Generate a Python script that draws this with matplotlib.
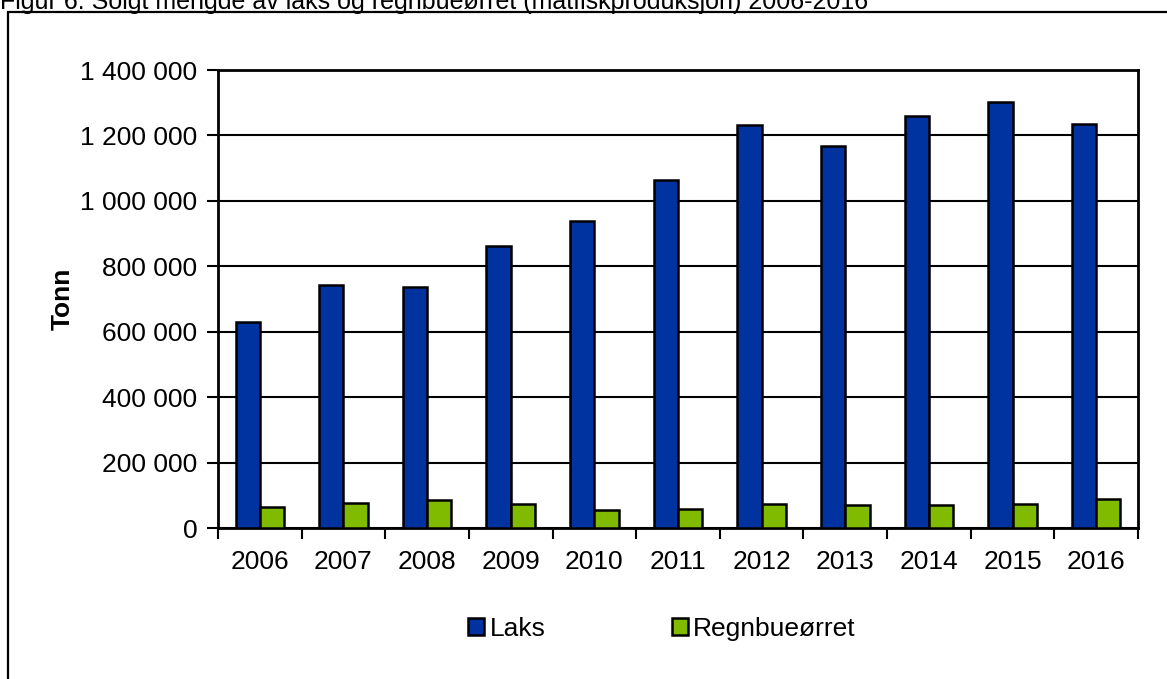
import matplotlib
matplotlib.use("Agg")
import matplotlib.pyplot as plt
import numpy as np
from matplotlib.ticker import FuncFormatter, FixedLocator
from matplotlib.patches import Rectangle

plt.rcParams['font.family'] = ['Liberation Sans', 'DejaVu Sans']

years = ['2006', '2007', '2008', '2009', '2010', '2011', '2012', '2013', '2014', '2015', '2016']
laks = [629888, 744222, 737694, 862908, 939575, 1064868, 1232095, 1168324, 1258356, 1303346, 1233619]
regnbue = [62702, 77381, 85176, 73989, 54451, 58472, 74583, 71449, 68910, 72359, 87446]
series_names = ['Laks', 'Regnbueørret']
title = 'Figur 6. Solgt mengde av laks og regnbueørret (matfiskproduksjon) 2006-2016'

W, H = 1167, 679
fig = plt.figure(figsize=(W / 100, H / 100), dpi=100)

# outer frame (cut at right/bottom)
fig.patches.append(Rectangle((8 / W, -0.1), 1.2, (H - 12) / H + 0.1, transform=fig.transFigure,
                             fill=False, edgecolor='black', linewidth=1.6))
fig.text(0, (H - 9) / H, title, fontsize=18, va='baseline', ha='left')

ax = fig.add_axes([218 / W, (H - 528) / H, (1138 - 218) / W, (528 - 70) / H])
x = np.arange(len(years))
w = 0.29
ax.bar(x - w / 2, laks, w, color='#0033A0', edgecolor='black', linewidth=1.8, label=series_names[0], zorder=3)
ax.bar(x + w / 2, regnbue, w, color='#80BB00', edgecolor='black', linewidth=1.8, label=series_names[1], zorder=3)

ax.set_xlim(-0.5, len(years) - 0.5)
ax.set_ylim(0, 1400000)
ax.set_yticks(np.arange(0, 1400001, 200000))
ax.yaxis.set_major_formatter(FuncFormatter(lambda v, p: f"{int(v):,}".replace(',', ' ')))
ax.yaxis.grid(True, color='black', linewidth=1.5, zorder=0)
ax.set_axisbelow(True)

ax.set_xticks(x)
ax.set_xticklabels(years)
ax.xaxis.set_minor_locator(FixedLocator(np.arange(-0.5, len(years), 1.0)))
ax.tick_params(axis='x', which='major', length=0, pad=16, labelsize=19)
ax.tick_params(axis='x', which='minor', length=8, width=1.5, direction='out')
ax.tick_params(axis='y', which='major', length=8, width=1.5, direction='out', pad=7, labelsize=19)

for s in ax.spines.values():
    s.set_linewidth(2)
    s.set_color('black')

ax.set_ylabel('Tonn', fontsize=19, fontweight='bold', va='center')
ax.yaxis.set_label_coords((63 - 218) / (1138 - 218), 0.5)

leg = fig.legend(loc='center', bbox_to_anchor=(662 / W, (H - 629) / H), ncol=2, frameon=False,
                 fontsize=19, handlelength=0.6, handleheight=0.6, handletextpad=0.2,
                 columnspacing=4.8)
for h in leg.legend_handles:
    h.set_linewidth(1.8)

fig.savefig('out.png', dpi=100)
